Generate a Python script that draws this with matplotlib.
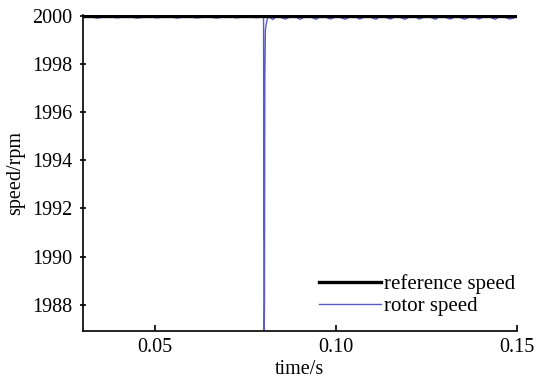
import matplotlib
matplotlib.use("Agg")
import matplotlib.pyplot as plt

plt.rcParams["font.family"] = ["Liberation Serif", "DejaVu Serif"]
plt.rcParams["font.size"] = 14

# reference speed (constant set point)
ref_time = [0.03, 0.15]
ref_speed = [2000.0, 2000.0]

# rotor speed
rotor_time = [
    0.0300, 0.0320, 0.0340, 0.0355, 0.0375, 0.0395, 0.0410, 0.0430, 0.0450,
    0.0465, 0.0485, 0.0505, 0.0520, 0.0540, 0.0560, 0.0575, 0.0595, 0.0615,
    0.0630, 0.0650, 0.0670, 0.0685, 0.0705, 0.0725, 0.0740, 0.0760, 0.0780,
    0.0795, 0.07995, 0.0800, 0.08005, 0.08010, 0.08020, 0.08030, 0.08045,
    0.08060, 0.0810, 0.0815, 0.0825, 0.0835, 0.0845, 0.0860, 0.0875, 0.0890,
    0.0900, 0.0915, 0.0930, 0.0945, 0.0955, 0.0970, 0.0985, 0.1000, 0.1010,
    0.1025, 0.1040, 0.1055, 0.1065, 0.1080, 0.1095, 0.1110, 0.1120, 0.1135,
    0.1150, 0.1165, 0.1175, 0.1190, 0.1205, 0.1220, 0.1230, 0.1245, 0.1260,
    0.1275, 0.1285, 0.1300, 0.1315, 0.1330, 0.1340, 0.1355, 0.1370, 0.1385,
    0.1395, 0.1410, 0.1425, 0.1440, 0.1450, 0.1465, 0.1480, 0.1500,
]
rotor_speed = [
    1999.95, 1999.97, 1999.92, 1999.96, 1999.98, 1999.93, 1999.96, 1999.97,
    1999.92, 1999.95, 1999.97, 1999.93, 1999.96, 1999.98, 1999.92, 1999.96,
    1999.97, 1999.93, 1999.95, 1999.97, 1999.92, 1999.96, 1999.98, 1999.93,
    1999.96, 1999.97, 1999.94, 1999.97, 1999.97, 1990.80, 1990.70, 1986.50,
    1988.00, 1997.50, 1999.40, 1999.60, 1999.90, 1999.97, 1999.86, 1999.98,
    1999.96, 1999.88, 1999.99, 1999.96, 1999.87, 1999.98, 1999.96, 1999.87,
    1999.98, 1999.96, 1999.88, 1999.98, 1999.96, 1999.87, 1999.99, 1999.96,
    1999.88, 1999.98, 1999.96, 1999.87, 1999.98, 1999.96, 1999.88, 1999.99,
    1999.96, 1999.87, 1999.98, 1999.96, 1999.88, 1999.98, 1999.96, 1999.87,
    1999.99, 1999.96, 1999.88, 1999.98, 1999.96, 1999.87, 1999.98, 1999.96,
    1999.88, 1999.99, 1999.96, 1999.87, 1999.98, 1999.96, 1999.88, 1999.97,
]

fig = plt.figure(figsize=(5.38, 3.84), dpi=100)
ax = fig.add_axes([0.154, 0.138, 0.807, 0.823])

ax.plot(ref_time, ref_speed, color="black", lw=2.4, label="reference speed", zorder=3)
ax.plot(rotor_time, rotor_speed, color="#5a5ac8", lw=1.0, label="rotor speed", zorder=2)

ax.set_xlim(0.03, 0.15)
ax.set_ylim(1986.9, 2000.05)
ax.set_xticks([0.05, 0.10, 0.15])
ax.set_xticklabels(["0.05", "0.10", "0.15"])
ax.set_yticks([1988, 1990, 1992, 1994, 1996, 1998, 2000])

for side in ("top", "right"):
    ax.spines[side].set_visible(False)
ax.spines["left"].set_linewidth(1.2)
ax.spines["bottom"].set_linewidth(1.2)
ax.tick_params(direction="in", length=4, width=1.2, labelsize=14.5, pad=5)
ax.tick_params(axis="y", direction="inout", length=5, pad=5)

ax.set_xlabel("time/s", fontsize=14.5, labelpad=2)
ax.set_ylabel("speed/rpm", fontsize=14.5, labelpad=5)

ax.legend(loc="lower right", frameon=False, fontsize=15, handlelength=3.0,
          handletextpad=0.15, labelspacing=0.12, borderaxespad=0.0,
          bbox_to_anchor=(1.016, 0.02))

fig.savefig("out.png", dpi=100)
